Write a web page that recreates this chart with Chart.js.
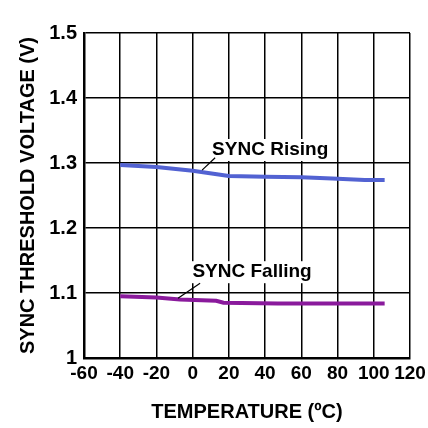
<!DOCTYPE html>
<html>
<head>
<meta charset="utf-8">
<script src="https://cdn.jsdelivr.net/npm/chart.js@4"></script>
<style>
  html, body { margin: 0; padding: 0; background: #fff; }
  #wrap { width: 428px; height: 428px; }
</style>
</head>
<body>
<div id="wrap"><canvas id="syncChart" width="428" height="428"></canvas></div>
<script>
// Data
const temps = [-40, -20, 0, 20, 40, 60, 77, 95, 106];
const risingV = [1.297, 1.294, 1.288, 1.280, 1.279, 1.278, 1.276, 1.274, 1.274];
const fallingTemps = [-40, -20, -7, 13, 17, 47, 80, 106];
const fallingV = [1.095, 1.093, 1.090, 1.088, 1.085, 1.084, 1.084, 1.084];
const xTicks = [-60, -40, -20, 0, 20, 40, 60, 80, 100, 120];
const yTicks = [1, 1.1, 1.2, 1.3, 1.4, 1.5];

const fam = 'Arial, "Liberation Sans", sans-serif';
const labelFont = 'bold 19px ' + fam;

// callout labels with leader lines
const callouts = {
    id: 'callouts',
    afterDatasetsDraw(chart) {
        const { ctx, scales: { x, y } } = chart;
        const items = [
            { text: 'SYNC Rising', tx: 42.8, ty: 1.320, from: [12.4, 1.308], to: [5.2, 1.289] },
            { text: 'SYNC Falling', tx: 32.8, ty: 1.132, from: [4.1, 1.115], to: [-8.1, 1.092] }
        ];
        ctx.save();
        items.forEach(it => {
            ctx.font = labelFont;
            ctx.textAlign = 'center';
            ctx.textBaseline = 'middle';
            const px = x.getPixelForValue(it.tx);
            const py = y.getPixelForValue(it.ty);
            const w = ctx.measureText(it.text).width;
            ctx.fillStyle = '#fff';
            ctx.fillRect(px - w / 2 - 3, py - 11, w + 6, 22);
            ctx.fillStyle = '#000';
            ctx.fillText(it.text, px, py);
            ctx.strokeStyle = '#000';
            ctx.lineWidth = 1.2;
            ctx.beginPath();
            ctx.moveTo(x.getPixelForValue(it.from[0]), y.getPixelForValue(it.from[1]));
            ctx.lineTo(x.getPixelForValue(it.to[0]), y.getPixelForValue(it.to[1]));
            ctx.stroke();
        });
        ctx.restore();
    }
};

const ctx = document.getElementById('syncChart').getContext('2d');
const syncChart = new Chart(ctx, {
    type: 'line',
    data: {
        datasets: [{
            label: 'SYNC Rising',
            data: temps.map((t, i) => ({ x: t, y: risingV[i] })),
            borderColor: '#5262d2',
            borderWidth: 4,
            pointRadius: 0,
            tension: 0
        }, {
            label: 'SYNC Falling',
            data: fallingTemps.map((t, i) => ({ x: t, y: fallingV[i] })),
            borderColor: '#8a1a9c',
            borderWidth: 4,
            pointRadius: 0,
            tension: 0
        }]
    },
    options: {
        responsive: false,
        animation: false,
        layout: { padding: { top: 33, right: 18, left: 6, bottom: 0 } },
        scales: {
            x: {
                type: 'linear',
                min: -60,
                max: 120,
                afterBuildTicks: axis => { axis.ticks = xTicks.map(v => ({ value: v })); },
                afterFit: axis => {
                    axis.height = 70;
                    axis.paddingLeft = 0;
                    axis.paddingRight = 0;
                },
                grid: { color: '#000', lineWidth: 1.5, drawTicks: false },
                border: { color: '#000', width: 2.5 },
                ticks: {
                    color: '#000',
                    font: { family: fam, size: 19, weight: 'bold' },
                    padding: 4,
                    maxRotation: 0,
                    autoSkip: false
                },
                title: {
                    display: true,
                    text: 'TEMPERATURE (ºC)',
                    color: '#000',
                    font: { family: fam, size: 20, weight: 'bold' },
                    padding: { top: 17, bottom: 4 }
                }
            },
            y: {
                min: 1,
                max: 1.5,
                afterBuildTicks: axis => { axis.ticks = yTicks.map(v => ({ value: v })); },
                afterFit: axis => { axis.width = 78; },
                grid: { color: '#000', lineWidth: 1.5, drawTicks: false },
                border: { color: '#000', width: 2.5 },
                ticks: {
                    color: '#000',
                    font: { family: fam, size: 20, weight: 'bold' },
                    padding: 7,
                    autoSkip: false,
                    callback: v => (v === 1 ? '1' : v.toFixed(1))
                },
                title: {
                    display: true,
                    text: 'SYNC THRESHOLD VOLTAGE (V)',
                    color: '#000',
                    font: { family: fam, size: 20, weight: 'bold' },
                    padding: { top: 10, bottom: 4 }
                }
            }
        },
        plugins: {
            legend: { display: false },
            tooltip: { enabled: false }
        }
    },
    plugins: [callouts]
});
</script>
</body>
</html>
